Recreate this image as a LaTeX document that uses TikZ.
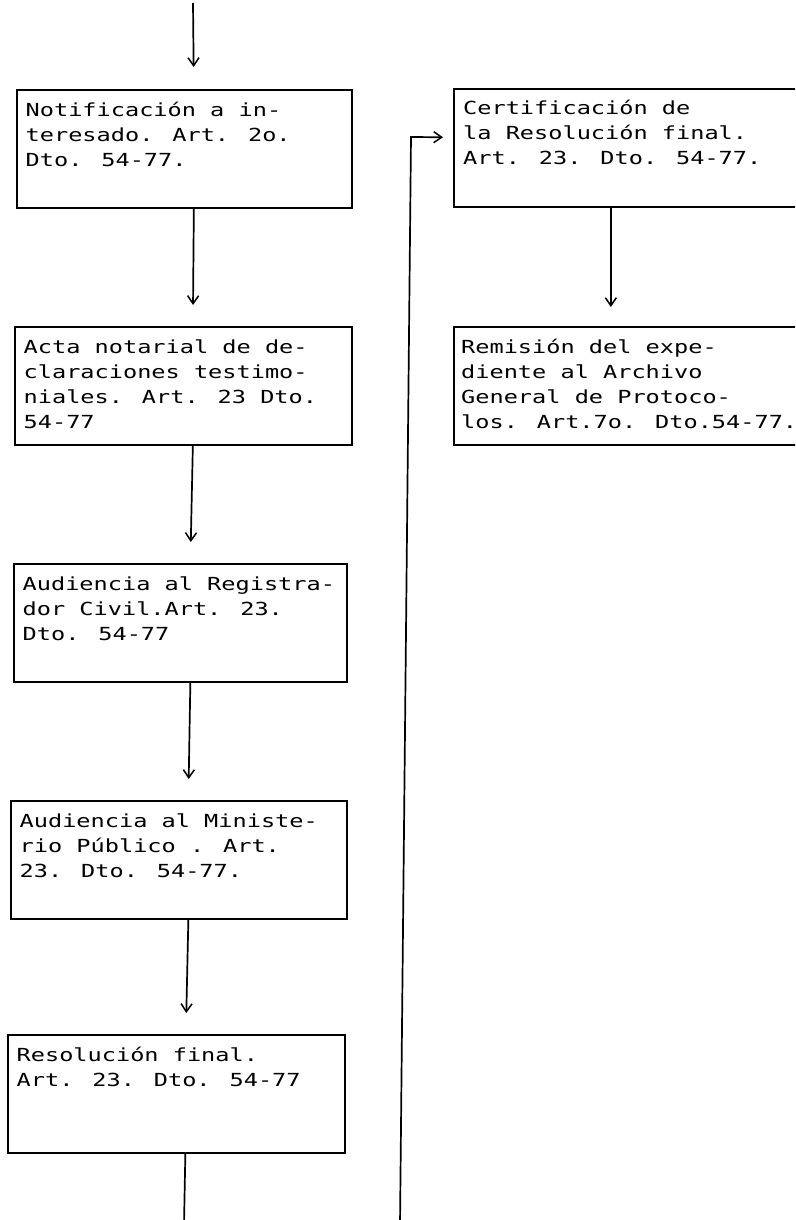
\documentclass[tikz,border=0pt]{standalone}
\usepackage{fontspec}
\newfontfamily\dm[FakeStretch=1.31]{DejaVu Sans Mono}
\usetikzlibrary{arrows.meta}
\begin{document}
\begin{tikzpicture}[x=1pt,y=-1pt,
  stage/.style={draw, line width=1.7pt, rectangle, anchor=north west, inner sep=0pt, minimum height=118pt},
  stagetext/.style={anchor=north west, align=left, inner sep=0pt, font=\dm\fontsize{18}{25}\selectfont},
  flow/.style={line width=1.7pt, -{Straight Barb[length=8pt,width=11pt,line width=1.5pt]}, shorten >=21pt},
  plain/.style={line width=1.7pt}]
\clip (0,0) rectangle (795,1220);
\fill[white] (0,0) rectangle (795,1220);

% left column boxes
\node[stage, minimum width=335pt] (b1) at (16,89) {};
\node[stage, minimum width=337pt] (b2) at (14,326) {};
\node[stage, minimum width=333pt] (b3) at (13,563) {};
\node[stage, minimum width=336pt] (b4) at (10,800) {};
\node[stage, minimum width=337pt] (b5) at (7,1034) {};
% right column boxes
\node[stage, minimum width=360pt] (b6) at (453,88) {};
\node[stage, minimum width=360pt] (b7) at (453,326) {};

% texts
\node[stagetext] (t1) at ([shift={(9.5,9)}]b1.north west) {\rule{0pt}{18pt}Notificación a in-\\teresado. Art. 2o.\\Dto. 54-77.};
\node[stagetext] (t2) at ([shift={(9.5,9)}]b2.north west) {\rule{0pt}{18pt}Acta notarial de de-\\claraciones testimo-\\niales. Art. 23 Dto.\\54-77};
\node[stagetext] (t3) at ([shift={(9.5,9)}]b3.north west) {\rule{0pt}{18pt}Audiencia al Registra-\\dor Civil.Art. 23.\\Dto. 54-77};
\node[stagetext] (t4) at ([shift={(9.5,9)}]b4.north west) {\rule{0pt}{18pt}Audiencia al Ministe-\\rio Público . Art.\\23. Dto. 54-77.};
\node[stagetext] (t5) at ([shift={(9.5,9)}]b5.north west) {\rule{0pt}{18pt}Resolución final.\\Art. 23. Dto. 54-77};
\node[stagetext] (t6) at ([shift={(10,8)}]b6.north west) {\rule{0pt}{18pt}Certificación de\\la Resolución final.\\Art. 23. Dto. 54-77.};
\node[stagetext] (t7) at ([shift={(8,9)}]b7.north west) {\rule{0pt}{18pt}Remisión del expe-\\diente al Archivo\\General de Protoco-\\los. Art.7o. Dto.54-77.};

% connectors
\coordinate (top) at (193,3);
\draw[flow, shorten >=22pt] (top) -- ([xshift=9.5pt]b1.north);
\draw[flow] ([xshift=9.5pt]b1.south) -- ([xshift=9.5pt]b2.north);
\draw[flow] ([xshift=9.5pt]b2.south) -- ([xshift=10pt]b3.north);
\draw[flow] ([xshift=10pt]b3.south) -- ([xshift=9.5pt]b4.north);
\draw[flow] ([xshift=9.5pt]b4.south) -- ([xshift=9.5pt]b5.north);
\coordinate (bl) at (184,1225);
\draw[plain] ([xshift=9pt]b5.south) -- (bl);

\draw[flow, shorten >=19pt] ([xshift=-23pt]b6.south) -- ([xshift=-23pt]b7.north);
\coordinate (rb) at (400,1225);
\coordinate (rt) at (411,137);
\draw[flow, shorten >=10pt] (rb) -- (rt) -- ([yshift=10.5pt]b6.west);
\end{tikzpicture}
\end{document}
